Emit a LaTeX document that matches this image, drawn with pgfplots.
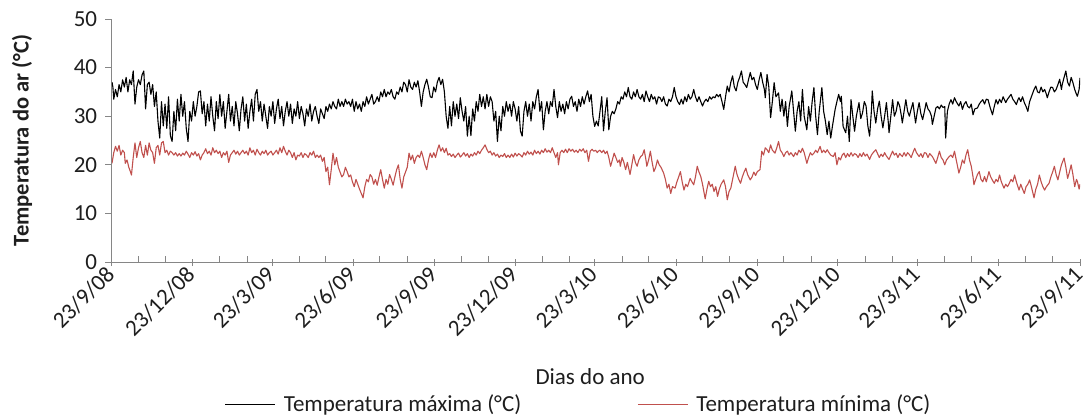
\documentclass[border=0pt]{standalone}
\usepackage{fontspec}
\setmainfont{Carlito}
\usepackage{pgfplots}
\usepackage{pgfplotstable}
\pgfplotsset{compat=1.18}
\definecolor{tminred}{RGB}{192,80,77}
\definecolor{axisgray}{RGB}{134,134,134}
\definecolor{txt}{RGB}{30,30,30}

\pgfplotstableread{
day tmax
0 37
1 36
2 33.5
4 35.5
6 34
8 36.5
10 35
12 37.5
14 36
16 38
18 35
20 37.5
22 36.5
24 39.3
26 32.5
28 36
30 37.5
32 36.5
34 38.5
36 39.3
38 31.5
40 36.5
42 37
44 34.5
46 36.5
48 32
50 35
52 29
54 25.5
56 33
58 28
60 32.5
62 27.5
64 34
66 26
68 24.8
70 31
72 27
74 33.5
76 29
78 34.5
80 30
82 33
84 27.5
86 24.8
88 31
90 29
92 33
94 30
96 32
98 35
100 35.2
102 30.5
104 33
106 28
108 32.5
110 29
112 34
114 30
116 27
118 33
120 29.5
122 34.5
124 30
126 33
128 27.5
130 31
132 34.5
134 29
136 32
138 28
140 33
142 30.5
144 27
146 31.5
148 34
150 29
152 32.5
154 27.5
156 31
158 33.5
160 29
162 34.5
164 35.5
166 31
168 33
170 29
172 32.5
174 30
176 27.5
178 32
180 30
182 33
184 28.5
186 31.5
188 33.5
190 29.5
192 32
194 28
196 31
198 33
200 30
202 32.5
204 28.5
206 31.5
208 30
210 33
212 29.5
214 32
216 30.5
218 28
220 31.5
222 30
224 32.5
226 29
228 31
230 32
232 30
234 28.5
236 31.5
238 30.5
240 29.5
242 32
244 31
246 32.5
248 31.5
250 33
252 32
254 31.5
256 33.5
258 32
260 33
262 32
264 33.5
266 32.5
268 33
270 32
272 33.5
274 31
276 33
278 31.5
280 32.5
282 31
284 33
286 32
288 34
290 32.5
292 33.5
294 34.5
296 32.5
298 33
300 34
302 33
304 35
306 34
308 35.5
310 34
312 35
314 34.5
316 35.5
318 34
320 33.5
322 35
324 34.5
326 36
328 35
330 37
332 36.5
334 35
336 37.5
338 36
340 35.5
342 37
344 36
346 37.3
348 35
350 32
352 35
354 36.5
356 37.6
358 36
360 34
362 33.8
364 36
366 35
368 37
370 38
372 36.5
374 37.6
376 35
378 30
380 27.5
382 32
384 28
386 33
388 30
390 32.5
392 29.5
394 33.8
396 31
398 29
400 32
402 25.9
404 30
406 26
408 31.5
410 29
412 33
414 31
416 34.5
418 32
420 34
422 31.5
424 34.5
426 32
428 34
430 33
432 29
434 31
436 24.8
438 30
440 27
442 32
444 30
446 33
448 31
450 32.5
452 30
454 33
456 31.5
458 29
460 32
462 27
464 25.9
466 31
468 33
470 30
472 32.5
474 29
476 33
478 31.5
480 34
482 35.5
484 31
486 33
488 27.2
490 31
492 33
494 30.5
496 33
498 32
500 35.5
502 32
504 29.7
506 33
508 31
510 32.5
512 30.5
514 33
516 31.5
518 33.5
520 34.1
522 32
524 33
526 31
528 33.5
530 32
532 34
534 32.5
536 34
538 35.2
540 33
542 34.5
544 30
546 27.9
548 29
550 28
552 31
554 34
556 27
558 31
560 33.8
562 27.2
564 30
566 31
568 30.5
570 31.5
572 33
574 32.5
576 34
578 33.5
580 35
582 34
584 35.9
586 34
588 33.5
590 35
592 34
594 35.5
596 34
598 33.5
600 34.5
602 33
604 35.2
606 34
608 33
610 34.5
612 33.5
614 34
616 32.5
618 34
620 33.8
622 33
624 34
626 32.5
628 32.1
630 33.5
632 33
634 34
636 35.9
638 34
640 33
642 32.4
644 33.5
646 32.5
648 34
650 33
652 34.5
654 33.5
656 34
658 35.5
660 34
662 33
664 34
666 33
668 32.1
670 33
672 33.5
674 33
676 34
678 33.5
680 34
682 33.8
684 34.5
686 34
688 34.5
690 33
692 31.4
694 34
696 36.2
698 35
700 37
702 38.3
704 36
706 35.2
708 37
710 38
712 39.3
714 37
716 36.5
718 35.9
720 37.5
722 39
724 37.5
726 38
728 36.5
730 35.5
732 37.5
734 39
736 37
738 35.5
739 33.8
741 38.6
743 36
745 29.7
747 33
749 36.9
751 34
754 34.8
756 31
758 33.5
760 30
762 33
764 27.9
766 32
769 35.2
771 31
773 26.9
775 31
777 33
779 29
781 35.5
783 30
786 27.2
788 32
790 29
792 33
794 35.9
796 30
798 26.2
800 31
803 35.9
805 31
807 29
809 26.2
811 29
813 25.5
815 28
818 31.4
820 33
822 34.5
824 33
825 34.1
827 27.9
830 26.6
832 30
834 24.8
836 33.4
838 30
840 26.9
842 30
845 32.8
847 29.5
849 30.7
851 33
853 32.1
855 28
857 25.9
859 31
860 35.2
862 31
864 28.6
866 31.5
868 33.1
870 30
872 27.6
874 30
876 32.8
878 29
879 26.6
881 30
883 33.4
885 30
887 31
889 33
891 32.1
893 30
894 28.6
896 31
898 33.4
900 31
902 30
904 31.5
906 32.8
908 30
909 28.6
911 31
913 32.8
915 30.5
917 29.3
919 31
921 32.8
923 31.5
925 31
927 30
928 28.3
930 30
932 31.7
934 32
936 31.5
938 32.3
940 31.8
942 32
943 25.5
945 31
947 32.5
949 33.4
951 32.5
953 33.8
955 33
958 32.1
960 33
962 31.4
964 32.5
966 33
968 32
970 31.7
972 32.5
974 30.3
976 31.5
979 31.7
981 32.5
983 33
985 33.4
987 32.5
989 33.5
991 33.4
993 32
996 30.3
998 32
1000 33.4
1002 32.5
1004 33.5
1006 32.8
1008 34
1011 32.8
1013 33.5
1015 34
1017 34.5
1019 33.5
1021 33
1023 32.4
1025 33.5
1026 33.8
1028 33
1030 34
1032 32.8
1034 32
1036 31
1038 33
1041 34.5
1043 35.5
1045 36.2
1047 35
1049 34.8
1051 36
1053 35
1055 35.5
1057 34.5
1058 33.8
1060 35
1062 36
1064 35.9
1066 35
1068 35.5
1070 36.5
1072 37.6
1074 35.5
1075 36.6
1077 38
1079 39.3
1081 37
1083 36.2
1085 38
1087 36.9
1089 35.5
1091 34.5
1092 34.1
1094 35.5
1095 37.9
}\tmaxtable

\pgfplotstableread{
day tmin
0 20.3
2 22.5
4 23.8
6 22.8
8 24
10 22
12 23
14 22.5
15 20.3
17 21
19 19.5
21 18.5
22 17.9
24 21.5
26 24.5
28 21.5
30 23.5
32 24.8
34 22.5
36 21.5
38 24
40 22
42 24.5
44 23
46 22.5
48 20.3
50 23.5
52 24
54 22
56 24.5
58 24.8
60 22.5
62 23
64 22
66 22.8
68 22.5
70 22
72 22.5
74 21.8
76 22.3
78 21.8
80 22.4
82 22
84 22.8
86 22.2
88 21.5
90 22.5
92 22
94 22.7
96 21.8
98 22.3
100 21
102 22
104 22.5
106 23.3
108 22.3
110 22.8
112 22
114 23.5
116 22.5
118 23
120 22.3
122 22.8
124 21.5
126 22.5
128 22
130 22.8
132 20.5
134 22
136 22.5
138 23
140 22.2
142 22.8
144 22
146 22.5
148 23
150 22.3
152 22.8
154 22
156 23.5
158 22.5
160 23
162 22
164 23.2
166 22.5
168 22
170 22.8
172 22.3
174 23
176 22
178 22.5
180 22.8
182 22
184 22.5
186 23
188 22.2
190 23.5
192 22.5
194 23.8
196 22.8
198 22
200 23
202 22.5
204 21.5
206 22.5
208 21
210 22
212 21.8
214 22.5
216 21.5
218 22.3
220 22
222 21.5
224 22.5
226 22
228 22.8
230 21.5
232 22
234 21.5
236 22
238 20.7
240 21.5
242 18.6
244 19.5
246 15.9
248 19
250 22.4
252 20
254 21.5
256 19.5
258 18.5
260 17.5
262 18
264 19.5
266 18.6
268 17.5
270 17.9
272 16.5
274 15.5
276 17
278 16
280 15
282 14.1
284 13.2
286 15.5
288 17
290 16.5
292 18
294 17.5
296 16
298 17
300 15.8
302 17.5
304 19
306 17
308 15.2
310 17
312 16
314 18
316 17
318 15.8
320 17.5
322 19
324 20
326 17
328 15.2
330 17.5
332 18.5
334 19.5
336 22.4
338 21
340 22
342 20.3
344 21.5
346 22
348 21.5
350 22.8
352 21.5
354 20
356 19
358 21
360 22.4
362 21.5
364 22.5
366 21.5
368 23
370 24.1
372 22.8
374 23.5
376 22.5
378 23.4
380 22
382 22.3
384 21.7
386 22.2
388 21.5
390 22
392 22.4
394 21.6
396 22
398 22.5
400 21.8
402 22.3
404 21.5
406 22.2
408 21.8
410 22.5
412 22
414 22.8
416 22.3
418 23
420 23.5
422 24.1
424 23.2
426 22.5
428 22.8
430 22
432 22.5
434 21.8
436 22.2
438 21.5
440 22
442 21.7
444 22.3
446 21.5
448 22
450 21.5
452 22.2
454 21.6
456 22.4
458 21.8
460 22.3
462 22
464 21.6
466 22.5
468 22
470 22.8
472 22.2
474 22.6
476 22
478 23
480 22.3
482 22.8
484 22.2
486 23
488 22.5
490 23.3
492 22.6
494 23
496 22.5
498 23.5
500 22.5
502 21.5
504 22.5
505 20
507 22.5
509 23
511 22.5
513 23.2
515 22.5
517 23.3
519 22.8
521 23.2
523 22.6
525 23
527 22.5
529 23.2
531 22.8
533 23.3
535 22.5
537 23
539 20.7
541 22.8
543 23.2
545 22.8
547 23
549 22.5
550 22.8
552 23
554 22.5
556 23
558 22.3
560 22.8
562 21.5
564 19.7
566 21
568 22.4
570 21.5
572 20.5
574 21
575 19.7
577 21.5
579 20.5
581 19
583 20.5
586 18
588 20
590 22.1
592 20.5
594 19.7
596 21
598 21.7
600 22
602 23.1
604 21
605 19.7
607 21
609 22.8
611 20.5
613 18.6
615 19.5
617 21
619 20
621 19.5
624 18.3
626 17
628 15.2
630 16
632 14.1
634 15.5
637 15.2
639 16.5
641 17.5
643 18.6
645 16.5
647 14.8
649 16
651 15.5
654 17.2
656 16.5
658 15.9
660 17.5
662 19.7
664 18.5
666 17.6
668 16
671 13
673 15
675 16.6
677 15.5
679 16
681 14.5
683 15.5
685 13.5
687 15
689 16
692 16.9
694 15.5
696 12.8
698 14.5
700 15.2
702 17
705 19.7
707 18
709 17
711 16.2
713 17.5
715 18.5
717 19.3
719 18
722 16.9
724 17.5
726 18.5
728 17.8
730 18.6
733 19
735 22.8
737 22
739 23.5
741 23.1
743 22.5
745 24.1
747 23
750 22.4
752 23.5
754 24.8
756 23
758 22.5
760 21.7
762 22.5
764 22.8
766 22
768 22.5
771 21.7
773 22.5
775 22
777 23
779 22.5
781 23.4
783 22.5
786 20.3
788 21.5
790 22.5
792 22
794 22.4
796 23
798 22.5
801 23.8
803 22.5
805 23
807 22.5
809 23.1
811 22.5
813 22
816 21.7
818 22.5
820 20
822 21.5
824 21
826 22
828 22.4
830 21.5
832 22.3
834 21.7
836 22.5
838 21.8
840 22.3
842 22.1
844 21.5
846 22.3
848 21.7
850 22.5
852 21.8
854 22.2
857 21.1
859 22
861 22.5
864 23.1
866 22.3
868 21.5
870 22.2
872 21.7
874 22.5
876 21.8
879 21.1
881 22
883 22.8
885 22
887 22.4
889 21.5
891 22.3
894 21.7
896 22.5
898 21.8
900 22.5
902 22.1
904 21.5
906 22.5
908 23.4
910 22.5
913 21.7
915 22.3
917 21.5
919 22.5
921 22.4
923 21.5
925 22.3
928 21.7
930 21
932 20.3
934 21.5
936 22.8
938 21.5
940 21
942 20
944 21
947 21.7
949 22
951 21.5
953 22.8
955 21
958 18.3
960 19.5
962 21
964 20.3
966 22
968 23.1
970 21
972 19.7
974 17.5
975 15.9
977 17
979 18
981 18.6
983 17
985 16.5
987 17.6
989 16.5
992 18.6
994 17.5
996 16.8
998 16.2
1000 17
1002 16.5
1004 17.9
1006 16.5
1009 15.2
1011 16
1013 15.5
1015 16.2
1017 17
1019 16.5
1021 17.9
1023 16.5
1026 14.8
1028 16
1030 15
1032 14.1
1034 15.5
1036 16
1038 16.9
1040 15.5
1043 13.2
1045 15
1047 16
1049 17.9
1051 16.5
1053 15.5
1055 14.8
1057 15.5
1060 16.2
1062 17.5
1064 18.5
1066 19.7
1068 18
1070 16.9
1072 18.5
1074 20
1077 21.4
1079 19.5
1081 17.2
1083 18.5
1085 20
1087 18
1089 15.5
1091 17
1092 16.6
1094 15
1095 16
}\tmintable

\begin{document}
\fontsize{23bp}{27bp}\selectfont
\begin{tikzpicture}
\begin{axis}[
  at={(0,0)}, anchor=south west,
  scale only axis,
  width=968bp, height=243bp,
  xmin=0, xmax=1095, ymin=0, ymax=50,
  enlargelimits=false,
  axis x line*=bottom, axis y line*=left,
  axis line style={draw=axisgray, line width=1bp},
  tick style={draw=axisgray, line width=1bp},
  tick align=outside,
  major tick length=7bp,
  minor tick length=6bp,
  minor x tick style={yshift=6bp},
  major x tick style={yshift=3bp},
  ytick={0,10,20,30,40,50},
  xtick={0,91,181,273,365,456,546,638,730,821,911,1003,1095},
  xticklabels={23/9/08,23/12/08,23/3/09,23/6/09,23/9/09,23/12/09,23/3/10,23/6/10,23/9/10,23/12/10,23/3/11,23/6/11,23/9/11},
  minor xtick={30,61,122,153,212,242,303,334,395,426,487,518,577,607,668,699,760,791,852,883,942,972,1033,1064},
  xticklabel style={rotate=45, anchor=east, text=txt, inner sep=2bp},
  yticklabel style={text=txt},
  /pgf/number format/assume math mode=true,
  xlabel={Dias do ano},
  ylabel={Temperatura do ar (°C)},
  xlabel style={at={(axis description cs:0.494,-0.47)}, anchor=center, text=txt},
  ylabel style={at={(axis description cs:-0.093,0.5)}, anchor=center, text=txt, font=\fontsize{22.5bp}{27bp}\selectfont\bfseries},
  legend columns=2,
  legend cell align=left,
  legend style={draw=none, fill=none, text=txt,
    at={(axis description cs:0.482,-0.588)}, anchor=center,
    /tikz/every even column/.append style={column sep=114bp}},
  legend image code/.code={\draw[#1] (0bp,0bp) -- (50bp,0bp); \path (56bp,0bp);},
]
\addplot[black, line width=1.1bp, line join=round] table[x=day, y=tmax] {\tmaxtable};
\addlegendentry{Temperatura máxima (°C)}
\addplot[tminred, line width=1.1bp, line join=round] table[x=day, y=tmin] {\tmintable};
\addlegendentry{Temperatura mínima (°C)}
\end{axis}
\pgfresetboundingbox
\path[use as bounding box] (-112bp,-156bp) rectangle (978bp,262bp);
\end{tikzpicture}
\end{document}
